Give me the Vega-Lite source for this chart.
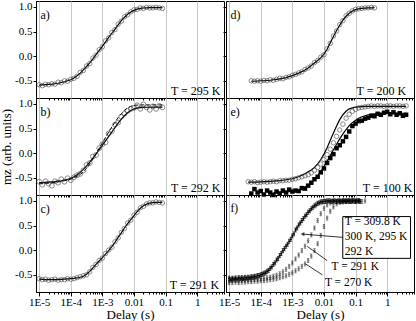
{
"$schema":"https://vega.github.io/schema/vega-lite/v6.json",
"padding":{"left":0,"top":0,"right":1,"bottom":0},
"config":{"font":"Liberation Serif","view":{"stroke":"black","strokeWidth":1},
"axis":{"labelFont":"Liberation Serif","titleFont":"Liberation Serif","labelFontSize":11,"titleFontSize":13,"titleFontWeight":"normal","labelColor":"black","titleColor":"black","domainColor":"black","tickColor":"black","tickSize":3,"labelPadding":1},
"text":{"font":"Liberation Serif","fontSize":12,"color":"black","baseline":"middle"}},
"datasets":{
"pts":[
{"p":"a","x":1e-5,"y":-0.58,"f":-0.59},{"p":"a","x":1.259e-5,"y":-0.6,"f":-0.585},{"p":"a","x":1.585e-5,"y":-0.57,"f":-0.58},{"p":"a","x":1.995e-5,"y":-0.58,"f":-0.575},{"p":"a","x":2.512e-5,"y":-0.56,"f":-0.57},{"p":"a","x":3.162e-5,"y":-0.57,"f":-0.56},{"p":"a","x":3.981e-5,"y":-0.53,"f":-0.55},{"p":"a","x":5.012e-5,"y":-0.54,"f":-0.535},{"p":"a","x":6.31e-5,"y":-0.5,"f":-0.52},{"p":"a","x":7.943e-5,"y":-0.51,"f":-0.5},
{"p":"a","x":1e-4,"y":-0.47,"f":-0.48},{"p":"a","x":1.259e-4,"y":-0.45,"f":-0.445},{"p":"a","x":1.585e-4,"y":-0.41,"f":-0.4},{"p":"a","x":1.995e-4,"y":-0.33,"f":-0.345},{"p":"a","x":2.512e-4,"y":-0.29,"f":-0.28},{"p":"a","x":3.162e-4,"y":-0.2,"f":-0.21},{"p":"a","x":3.981e-4,"y":-0.15,"f":-0.135},{"p":"a","x":5.012e-4,"y":-0.04,"f":-0.055},{"p":"a","x":6.31e-4,"y":0.02,"f":0.03},{"p":"a","x":7.943e-4,"y":0.13,"f":0.115},
{"p":"a","x":0.001,"y":0.19,"f":0.2},{"p":"a","x":0.001259,"y":0.31,"f":0.29},{"p":"a","x":0.001585,"y":0.37,"f":0.38},{"p":"a","x":0.001995,"y":0.48,"f":0.465},{"p":"a","x":0.002512,"y":0.54,"f":0.55},{"p":"a","x":0.003162,"y":0.65,"f":0.635},{"p":"a","x":0.003981,"y":0.71,"f":0.72},{"p":"a","x":0.005012,"y":0.8,"f":0.79},{"p":"a","x":0.00631,"y":0.84,"f":0.85},{"p":"a","x":0.007943,"y":0.9,"f":0.895},
{"p":"a","x":0.01,"y":0.94,"f":0.93},{"p":"a","x":0.01259,"y":0.95,"f":0.955},{"p":"a","x":0.01585,"y":0.98,"f":0.97},{"p":"a","x":0.01995,"y":0.97,"f":0.978},{"p":"a","x":0.02512,"y":0.99,"f":0.982},{"p":"a","x":0.03162,"y":0.98,"f":0.984},{"p":"a","x":0.03981,"y":0.98,"f":0.985},{"p":"a","x":0.05012,"y":0.99,"f":0.985},{"p":"a","x":0.0631,"y":0.98,"f":0.985},{"p":"a","x":0.07943,"y":0.97,"f":0.985},

{"p":"b","x":1e-5,"y":-0.58,"f":-0.6,"g":-0.62},{"p":"b","x":1.259e-5,"y":-0.64,"f":-0.6,"g":-0.62},{"p":"b","x":1.585e-5,"y":-0.57,"f":-0.595,"g":-0.615},{"p":"b","x":1.995e-5,"y":-0.62,"f":-0.59,"g":-0.61},{"p":"b","x":2.512e-5,"y":-0.66,"f":-0.585,"g":-0.6},{"p":"b","x":3.162e-5,"y":-0.57,"f":-0.58,"g":-0.595},{"p":"b","x":3.981e-5,"y":-0.6,"f":-0.57,"g":-0.585},{"p":"b","x":5.012e-5,"y":-0.53,"f":-0.56,"g":-0.575},{"p":"b","x":6.31e-5,"y":-0.58,"f":-0.545,"g":-0.56},{"p":"b","x":7.943e-5,"y":-0.51,"f":-0.53,"g":-0.545},
{"p":"b","x":1e-4,"y":-0.55,"f":-0.51,"g":-0.53},{"p":"b","x":1.259e-4,"y":-0.49,"f":-0.48,"g":-0.5},{"p":"b","x":1.585e-4,"y":-0.45,"f":-0.44,"g":-0.47},{"p":"b","x":1.995e-4,"y":-0.42,"f":-0.39,"g":-0.43},{"p":"b","x":2.512e-4,"y":-0.35,"f":-0.33,"g":-0.38},{"p":"b","x":3.162e-4,"y":-0.24,"f":-0.26,"g":-0.31},{"p":"b","x":3.981e-4,"y":-0.2,"f":-0.18,"g":-0.22},{"p":"b","x":5.012e-4,"y":-0.07,"f":-0.1,"g":-0.12},{"p":"b","x":6.31e-4,"y":-0.04,"f":-0.02,"g":-0.01},{"p":"b","x":7.943e-4,"y":0.1,"f":0.07,"g":0.1},
{"p":"b","x":0.001,"y":0.18,"f":0.16,"g":0.21},{"p":"b","x":0.001259,"y":0.22,"f":0.25,"g":0.32},{"p":"b","x":0.001585,"y":0.4,"f":0.34,"g":0.43},{"p":"b","x":0.001995,"y":0.45,"f":0.43,"g":0.53},{"p":"b","x":0.002512,"y":0.58,"f":0.52,"g":0.63},{"p":"b","x":0.003162,"y":0.62,"f":0.61,"g":0.72},{"p":"b","x":0.003981,"y":0.74,"f":0.69,"g":0.8},{"p":"b","x":0.005012,"y":0.8,"f":0.76,"g":0.87},{"p":"b","x":0.00631,"y":0.86,"f":0.82,"g":0.92},{"p":"b","x":0.007943,"y":0.9,"f":0.865,"g":0.95},
{"p":"b","x":0.01,"y":0.92,"f":0.895,"g":0.97},{"p":"b","x":0.01259,"y":0.97,"f":0.915,"g":0.975},{"p":"b","x":0.01585,"y":0.9,"f":0.925,"g":0.98},{"p":"b","x":0.01995,"y":0.99,"f":0.93,"g":0.98},{"p":"b","x":0.02512,"y":0.93,"f":0.932,"g":0.98},{"p":"b","x":0.03162,"y":0.88,"f":0.933,"g":0.98},{"p":"b","x":0.03981,"y":0.95,"f":0.934,"g":0.98},{"p":"b","x":0.05012,"y":0.9,"f":0.934,"g":0.98},{"p":"b","x":0.0631,"y":0.96,"f":0.934,"g":0.98},{"p":"b","x":0.07943,"y":0.93,"f":0.934,"g":0.98},

{"p":"c","x":1e-5,"y":-0.58,"f":-0.59},{"p":"c","x":1.259e-5,"y":-0.6,"f":-0.595},{"p":"c","x":1.585e-5,"y":-0.59,"f":-0.6},{"p":"c","x":1.995e-5,"y":-0.61,"f":-0.6},{"p":"c","x":2.512e-5,"y":-0.6,"f":-0.6},{"p":"c","x":3.162e-5,"y":-0.59,"f":-0.6},{"p":"c","x":3.981e-5,"y":-0.61,"f":-0.6},{"p":"c","x":5.012e-5,"y":-0.6,"f":-0.595},{"p":"c","x":6.31e-5,"y":-0.6,"f":-0.59},{"p":"c","x":7.943e-5,"y":-0.58,"f":-0.585},
{"p":"c","x":1e-4,"y":-0.59,"f":-0.58},{"p":"c","x":1.259e-4,"y":-0.58,"f":-0.575},{"p":"c","x":1.585e-4,"y":-0.56,"f":-0.565},{"p":"c","x":1.995e-4,"y":-0.54,"f":-0.55},{"p":"c","x":2.512e-4,"y":-0.52,"f":-0.53},{"p":"c","x":3.162e-4,"y":-0.5,"f":-0.49},{"p":"c","x":3.981e-4,"y":-0.44,"f":-0.43},{"p":"c","x":5.012e-4,"y":-0.35,"f":-0.36},{"p":"c","x":6.31e-4,"y":-0.29,"f":-0.29},{"p":"c","x":7.943e-4,"y":-0.21,"f":-0.22},
{"p":"c","x":0.001,"y":-0.16,"f":-0.15},{"p":"c","x":0.001259,"y":-0.07,"f":-0.08},{"p":"c","x":0.001585,"y":0.0,"f":-0.01},{"p":"c","x":0.001995,"y":0.06,"f":0.07},{"p":"c","x":0.002512,"y":0.17,"f":0.16},{"p":"c","x":0.003162,"y":0.25,"f":0.26},{"p":"c","x":0.003981,"y":0.36,"f":0.35},{"p":"c","x":0.005012,"y":0.44,"f":0.45},{"p":"c","x":0.00631,"y":0.55,"f":0.54},{"p":"c","x":0.007943,"y":0.61,"f":0.62},
{"p":"c","x":0.01,"y":0.71,"f":0.7},{"p":"c","x":0.01259,"y":0.77,"f":0.78},{"p":"c","x":0.01585,"y":0.86,"f":0.85},{"p":"c","x":0.01995,"y":0.89,"f":0.9},{"p":"c","x":0.02512,"y":0.94,"f":0.935},{"p":"c","x":0.03162,"y":0.96,"f":0.955},{"p":"c","x":0.03981,"y":0.96,"f":0.965},{"p":"c","x":0.05012,"y":0.98,"f":0.97},{"p":"c","x":0.0631,"y":0.97,"f":0.97},{"p":"c","x":0.07943,"y":0.96,"f":0.97},

{"p":"d","x":5.012e-5,"y":-0.5,"f":-0.51},{"p":"d","x":6.31e-5,"y":-0.51,"f":-0.51},{"p":"d","x":7.943e-5,"y":-0.5,"f":-0.505},{"p":"d","x":1e-4,"y":-0.51,"f":-0.5},{"p":"d","x":1.259e-4,"y":-0.49,"f":-0.5},{"p":"d","x":1.585e-4,"y":-0.5,"f":-0.495},{"p":"d","x":1.995e-4,"y":-0.48,"f":-0.49},{"p":"d","x":2.512e-4,"y":-0.49,"f":-0.48},{"p":"d","x":3.162e-4,"y":-0.47,"f":-0.47},{"p":"d","x":3.981e-4,"y":-0.45,"f":-0.46},
{"p":"d","x":5.012e-4,"y":-0.46,"f":-0.45},{"p":"d","x":6.31e-4,"y":-0.43,"f":-0.435},{"p":"d","x":7.943e-4,"y":-0.42,"f":-0.415},{"p":"d","x":0.001,"y":-0.39,"f":-0.395},{"p":"d","x":0.001259,"y":-0.37,"f":-0.37},{"p":"d","x":0.001585,"y":-0.34,"f":-0.345},{"p":"d","x":0.001995,"y":-0.32,"f":-0.315},{"p":"d","x":0.002512,"y":-0.27,"f":-0.28},{"p":"d","x":0.003162,"y":-0.24,"f":-0.24},{"p":"d","x":0.003981,"y":-0.2,"f":-0.19},
{"p":"d","x":0.005012,"y":-0.13,"f":-0.14},{"p":"d","x":0.00631,"y":-0.09,"f":-0.09},{"p":"d","x":0.007943,"y":-0.02,"f":-0.03},{"p":"d","x":0.01,"y":0.03,"f":0.04},{"p":"d","x":0.01259,"y":0.15,"f":0.14},{"p":"d","x":0.01585,"y":0.26,"f":0.27},{"p":"d","x":0.01995,"y":0.41,"f":0.4},{"p":"d","x":0.02512,"y":0.51,"f":0.52},{"p":"d","x":0.03162,"y":0.64,"f":0.63},{"p":"d","x":0.03981,"y":0.72,"f":0.73},
{"p":"d","x":0.05012,"y":0.82,"f":0.81},{"p":"d","x":0.0631,"y":0.87,"f":0.87},{"p":"d","x":0.07943,"y":0.92,"f":0.915},{"p":"d","x":0.1,"y":0.95,"f":0.945},{"p":"d","x":0.1259,"y":0.96,"f":0.96},{"p":"d","x":0.1585,"y":0.97,"f":0.97},{"p":"d","x":0.1995,"y":0.98,"f":0.975},{"p":"d","x":0.2512,"y":0.98,"f":0.98},{"p":"d","x":0.3162,"y":0.99,"f":0.98},{"p":"d","x":0.3981,"y":0.98,"f":0.985},

{"p":"e","x":3.981e-5,"y":-0.58,"f":-0.59},{"p":"e","x":5.012e-5,"y":-0.59,"f":-0.59,"q":-0.82},{"p":"e","x":6.31e-5,"y":-0.58,"f":-0.59,"q":-0.73},{"p":"e","x":7.943e-5,"y":-0.6,"f":-0.59,"q":-0.8},{"p":"e","x":1e-4,"y":-0.59,"f":-0.585,"q":-0.77},{"p":"e","x":1.259e-4,"y":-0.58,"f":-0.58,"q":-0.84},{"p":"e","x":1.585e-4,"y":-0.59,"f":-0.58,"q":-0.76},{"p":"e","x":1.995e-4,"y":-0.58,"f":-0.575,"q":-0.8},{"p":"e","x":2.512e-4,"y":-0.57,"f":-0.57,"q":-0.85,"h":-0.8},{"p":"e","x":3.162e-4,"y":-0.58,"f":-0.565,"q":-0.78,"h":-0.8},
{"p":"e","x":3.981e-4,"y":-0.56,"f":-0.56,"q":-0.82,"h":-0.795},{"p":"e","x":5.012e-4,"y":-0.56,"f":-0.55,"q":-0.76,"h":-0.79},{"p":"e","x":6.31e-4,"y":-0.55,"f":-0.54,"q":-0.8,"h":-0.785},{"p":"e","x":7.943e-4,"y":-0.55,"f":-0.53,"q":-0.74,"h":-0.78},{"p":"e","x":0.001,"y":-0.53,"f":-0.52,"q":-0.78,"h":-0.77},{"p":"e","x":0.001259,"y":-0.52,"f":-0.5,"q":-0.76,"h":-0.76},{"p":"e","x":0.001585,"y":-0.5,"f":-0.48,"q":-0.77,"h":-0.745},{"p":"e","x":0.001995,"y":-0.48,"f":-0.45,"q":-0.71,"h":-0.72},{"p":"e","x":0.002512,"y":-0.46,"f":-0.42,"q":-0.72,"h":-0.69},{"p":"e","x":0.003162,"y":-0.44,"f":-0.38,"q":-0.66,"h":-0.65},
{"p":"e","x":0.003981,"y":-0.4,"f":-0.34,"q":-0.6,"h":-0.6},{"p":"e","x":0.005012,"y":-0.35,"f":-0.29,"q":-0.53,"h":-0.54},{"p":"e","x":0.00631,"y":-0.29,"f":-0.22,"q":-0.48,"h":-0.46},{"p":"e","x":0.007943,"y":-0.22,"f":-0.13,"q":-0.39,"h":-0.37},{"p":"e","x":0.01,"y":-0.13,"f":-0.02,"q":-0.31,"h":-0.27},{"p":"e","x":0.01259,"y":-0.03,"f":0.11,"q":-0.2,"h":-0.16},{"p":"e","x":0.01585,"y":0.08,"f":0.26,"q":-0.1,"h":-0.05},{"p":"e","x":0.01995,"y":0.21,"f":0.41,"q":-0.02,"h":0.07},{"p":"e","x":0.02512,"y":0.34,"f":0.55,"q":0.1,"h":0.18},{"p":"e","x":0.03162,"y":0.47,"f":0.68,"q":0.16,"h":0.29},
{"p":"e","x":0.03981,"y":0.59,"f":0.78,"q":0.24,"h":0.39},{"p":"e","x":0.05012,"y":0.71,"f":0.85,"q":0.33,"h":0.48},{"p":"e","x":0.0631,"y":0.79,"f":0.9,"q":0.44,"h":0.56},{"p":"e","x":0.07943,"y":0.85,"f":0.92,"q":0.55,"h":0.62},{"p":"e","x":0.1,"y":0.89,"f":0.935,"q":0.6,"h":0.67},{"p":"e","x":0.1259,"y":0.92,"f":0.94,"q":0.65,"h":0.71},{"p":"e","x":0.1585,"y":0.93,"f":0.945,"q":0.66,"h":0.74},{"p":"e","x":0.1995,"y":0.94,"f":0.95,"q":0.7,"h":0.76},{"p":"e","x":0.2512,"y":0.95,"f":0.95,"q":0.72,"h":0.78},{"p":"e","x":0.3162,"y":0.96,"f":0.95,"q":0.76,"h":0.79},
{"p":"e","x":0.3981,"y":0.95,"f":0.95,"q":0.75,"h":0.8},{"p":"e","x":0.5012,"y":0.96,"f":0.95,"q":0.8,"h":0.805},{"p":"e","x":0.631,"y":0.96,"f":0.95,"q":0.78,"h":0.81},{"p":"e","x":0.7943,"y":0.95,"f":0.95,"q":0.82,"h":0.81},{"p":"e","x":1,"y":0.96,"f":0.95,"q":0.84,"h":0.81},{"p":"e","x":1.259,"y":0.96,"f":0.95,"q":0.79,"h":0.81},{"p":"e","x":1.585,"y":0.95,"f":0.95,"q":0.83,"h":0.81},{"p":"e","x":1.995,"y":0.96,"f":0.95,"q":0.78,"h":0.81},{"p":"e","x":2.512,"y":0.96,"f":0.95,"q":0.81,"h":0.81},{"p":"e","x":3.162,"y":0.95,"f":0.95,"q":0.76,"h":0.81},{"p":"e","x":3.981,"y":0.96,"f":0.95,"q":0.78,"h":0.81}
],
"fs":[
{"s":"309.8 K","x":1e-5,"v":-0.57},{"s":"309.8 K","x":1.259e-5,"v":-0.57},{"s":"309.8 K","x":1.585e-5,"v":-0.565},{"s":"309.8 K","x":1.995e-5,"v":-0.56},{"s":"309.8 K","x":2.512e-5,"v":-0.56},{"s":"309.8 K","x":3.162e-5,"v":-0.555},{"s":"309.8 K","x":3.981e-5,"v":-0.55},{"s":"309.8 K","x":5.012e-5,"v":-0.54},{"s":"309.8 K","x":6.31e-5,"v":-0.53},{"s":"309.8 K","x":7.943e-5,"v":-0.515},
{"s":"309.8 K","x":1e-4,"v":-0.5},{"s":"309.8 K","x":1.259e-4,"v":-0.47},{"s":"309.8 K","x":1.585e-4,"v":-0.43},{"s":"309.8 K","x":1.995e-4,"v":-0.37},{"s":"309.8 K","x":2.512e-4,"v":-0.29},{"s":"309.8 K","x":3.162e-4,"v":-0.2},{"s":"309.8 K","x":3.981e-4,"v":-0.11},{"s":"309.8 K","x":5.012e-4,"v":-0.01},{"s":"309.8 K","x":6.31e-4,"v":0.08},{"s":"309.8 K","x":7.943e-4,"v":0.18},
{"s":"309.8 K","x":0.001,"v":0.29},{"s":"309.8 K","x":0.001259,"v":0.41},{"s":"309.8 K","x":0.001585,"v":0.51},{"s":"309.8 K","x":0.001995,"v":0.6},{"s":"309.8 K","x":0.002512,"v":0.69},{"s":"309.8 K","x":0.003162,"v":0.77},{"s":"309.8 K","x":0.003981,"v":0.84},{"s":"309.8 K","x":0.005012,"v":0.9},{"s":"309.8 K","x":0.00631,"v":0.95},{"s":"309.8 K","x":0.007943,"v":0.98},
{"s":"309.8 K","x":0.01,"v":0.99},{"s":"309.8 K","x":0.01259,"v":1.0},{"s":"309.8 K","x":0.01585,"v":1.0},{"s":"309.8 K","x":0.01995,"v":1.0},{"s":"309.8 K","x":0.02512,"v":0.99},{"s":"309.8 K","x":0.03162,"v":1.0},{"s":"309.8 K","x":0.03981,"v":1.0},{"s":"309.8 K","x":0.05012,"v":0.99},{"s":"309.8 K","x":0.0631,"v":1.0},{"s":"309.8 K","x":0.07943,"v":1.0},{"s":"309.8 K","x":0.1,"v":0.99},{"s":"309.8 K","x":0.1259,"v":1.0},
{"s":"292 K","x":1.122e-5,"v":-0.6},{"s":"292 K","x":1.413e-5,"v":-0.59},{"s":"292 K","x":1.778e-5,"v":-0.59},{"s":"292 K","x":2.239e-5,"v":-0.58},{"s":"292 K","x":2.818e-5,"v":-0.58},{"s":"292 K","x":3.548e-5,"v":-0.57},{"s":"292 K","x":4.467e-5,"v":-0.565},{"s":"292 K","x":5.623e-5,"v":-0.55},{"s":"292 K","x":7.079e-5,"v":-0.54},{"s":"292 K","x":8.913e-5,"v":-0.52},
{"s":"292 K","x":1.122e-4,"v":-0.49},{"s":"292 K","x":1.413e-4,"v":-0.46},{"s":"292 K","x":1.778e-4,"v":-0.41},{"s":"292 K","x":2.239e-4,"v":-0.34},{"s":"292 K","x":2.818e-4,"v":-0.26},{"s":"292 K","x":3.548e-4,"v":-0.17},{"s":"292 K","x":4.467e-4,"v":-0.07},{"s":"292 K","x":5.623e-4,"v":0.03},{"s":"292 K","x":7.079e-4,"v":0.12},{"s":"292 K","x":8.913e-4,"v":0.22},
{"s":"292 K","x":0.001122,"v":0.33},{"s":"292 K","x":0.001413,"v":0.45},{"s":"292 K","x":0.001778,"v":0.55},{"s":"292 K","x":0.002239,"v":0.64},{"s":"292 K","x":0.002818,"v":0.72},{"s":"292 K","x":0.003548,"v":0.8},{"s":"292 K","x":0.004467,"v":0.87},{"s":"292 K","x":0.005623,"v":0.92},{"s":"292 K","x":0.007079,"v":0.96},{"s":"292 K","x":0.008913,"v":0.98},
{"s":"292 K","x":0.01122,"v":0.99},{"s":"292 K","x":0.01413,"v":1.0},{"s":"292 K","x":0.01778,"v":0.99},{"s":"292 K","x":0.02239,"v":1.0},{"s":"292 K","x":0.02818,"v":1.0},{"s":"292 K","x":0.03548,"v":0.99},{"s":"292 K","x":0.04467,"v":1.0},{"s":"292 K","x":0.05623,"v":1.0},{"s":"292 K","x":0.07079,"v":0.99},{"s":"292 K","x":0.08913,"v":1.0},{"s":"292 K","x":0.1122,"v":1.0},{"s":"292 K","x":0.1413,"v":0.99},
{"s":"291 K","x":1e-5,"v":-0.62},{"s":"291 K","x":1.259e-5,"v":-0.62},{"s":"291 K","x":1.585e-5,"v":-0.61},{"s":"291 K","x":1.995e-5,"v":-0.62},{"s":"291 K","x":2.512e-5,"v":-0.61},{"s":"291 K","x":3.162e-5,"v":-0.61},{"s":"291 K","x":3.981e-5,"v":-0.6},{"s":"291 K","x":5.012e-5,"v":-0.6},{"s":"291 K","x":6.31e-5,"v":-0.59},{"s":"291 K","x":7.943e-5,"v":-0.59},
{"s":"291 K","x":1e-4,"v":-0.58},{"s":"291 K","x":1.259e-4,"v":-0.57},{"s":"291 K","x":1.585e-4,"v":-0.56},{"s":"291 K","x":1.995e-4,"v":-0.55},{"s":"291 K","x":2.512e-4,"v":-0.53},{"s":"291 K","x":3.162e-4,"v":-0.51},{"s":"291 K","x":3.981e-4,"v":-0.48},{"s":"291 K","x":5.012e-4,"v":-0.44},{"s":"291 K","x":6.31e-4,"v":-0.39},{"s":"291 K","x":7.943e-4,"v":-0.33},
{"s":"291 K","x":0.001,"v":-0.26},{"s":"291 K","x":0.001259,"v":-0.18},{"s":"291 K","x":0.001585,"v":-0.1},{"s":"291 K","x":0.001995,"v":-0.01},{"s":"291 K","x":0.002512,"v":0.08},{"s":"291 K","x":0.003162,"v":0.19},{"s":"291 K","x":0.003981,"v":0.31},{"s":"291 K","x":0.005012,"v":0.45},{"s":"291 K","x":0.00631,"v":0.6},{"s":"291 K","x":0.007943,"v":0.74},
{"s":"291 K","x":0.01,"v":0.85},{"s":"291 K","x":0.01259,"v":0.92},{"s":"291 K","x":0.01585,"v":0.96},{"s":"291 K","x":0.01995,"v":0.98},{"s":"291 K","x":0.02512,"v":0.99},{"s":"291 K","x":0.03162,"v":0.99},{"s":"291 K","x":0.03981,"v":1.0},{"s":"291 K","x":0.05012,"v":1.0},{"s":"291 K","x":0.0631,"v":1.0},{"s":"291 K","x":0.07943,"v":1.0},{"s":"291 K","x":0.1,"v":0.99},{"s":"291 K","x":0.1259,"v":1.0},
{"s":"270 K","x":1e-5,"v":-0.66},{"s":"270 K","x":1.259e-5,"v":-0.66},{"s":"270 K","x":1.585e-5,"v":-0.65},{"s":"270 K","x":1.995e-5,"v":-0.66},{"s":"270 K","x":2.512e-5,"v":-0.65},{"s":"270 K","x":3.162e-5,"v":-0.65},{"s":"270 K","x":3.981e-5,"v":-0.64},{"s":"270 K","x":5.012e-5,"v":-0.64},{"s":"270 K","x":6.31e-5,"v":-0.63},{"s":"270 K","x":7.943e-5,"v":-0.63},
{"s":"270 K","x":1e-4,"v":-0.62},{"s":"270 K","x":1.259e-4,"v":-0.62},{"s":"270 K","x":1.585e-4,"v":-0.61},{"s":"270 K","x":1.995e-4,"v":-0.6},{"s":"270 K","x":2.512e-4,"v":-0.59},{"s":"270 K","x":3.162e-4,"v":-0.58},{"s":"270 K","x":3.981e-4,"v":-0.56},{"s":"270 K","x":5.012e-4,"v":-0.54},{"s":"270 K","x":6.31e-4,"v":-0.52},{"s":"270 K","x":7.943e-4,"v":-0.49},
{"s":"270 K","x":0.001,"v":-0.46},{"s":"270 K","x":0.001259,"v":-0.42},{"s":"270 K","x":0.001585,"v":-0.38},{"s":"270 K","x":0.001995,"v":-0.33},{"s":"270 K","x":0.002512,"v":-0.28},{"s":"270 K","x":0.003162,"v":-0.21},{"s":"270 K","x":0.003981,"v":-0.12},{"s":"270 K","x":0.005012,"v":-0.01},{"s":"270 K","x":0.00631,"v":0.13},{"s":"270 K","x":0.007943,"v":0.3},
{"s":"270 K","x":0.01,"v":0.48},{"s":"270 K","x":0.01259,"v":0.65},{"s":"270 K","x":0.01585,"v":0.79},{"s":"270 K","x":0.01995,"v":0.88},{"s":"270 K","x":0.02512,"v":0.94},{"s":"270 K","x":0.03162,"v":0.97},{"s":"270 K","x":0.03981,"v":0.98},{"s":"270 K","x":0.05012,"v":0.99},{"s":"270 K","x":0.0631,"v":0.99},{"s":"270 K","x":0.07943,"v":1.0},{"s":"270 K","x":0.1,"v":1.0},{"s":"270 K","x":0.1259,"v":1.0},{"s":"270 K","x":0.1585,"v":0.99},{"s":"270 K","x":0.1995,"v":1.0}
],
"ann":[
{"k":"box","x":0.0394,"v":-0.167,"x2":5.51,"v2":0.682},
{"k":"line","x":0.0394,"v":0.26,"x2":0.0021,"v2":0.326},
{"k":"line","x":0.0127,"v":-0.213,"x2":0.00297,"v2":0.076},
{"k":"line","x":0.00891,"v":-0.502,"x2":0.00263,"v2":-0.28},
{"k":"head","x":0.0021,"v":0.326}
],
"lab":[
{"p":"a","k":"id","x":1.1e-5,"v":0.83,"t":"a)"},{"p":"b","k":"id","x":1.1e-5,"v":0.83,"t":"b)"},{"p":"c","k":"id","x":1.1e-5,"v":0.83,"t":"c)"},
{"p":"d","k":"id","x":1.1e-5,"v":0.83,"t":"d)"},{"p":"e","k":"id","x":1.1e-5,"v":0.83,"t":"e)"},{"p":"f","k":"id","x":1.1e-5,"v":0.83,"t":"f)"},
{"p":"a","k":"T","x":5.5,"v":-0.71,"t":"T = 295 K"},{"p":"b","k":"T","x":5.5,"v":-0.71,"t":"T = 292 K"},{"p":"c","k":"T","x":5.0,"v":-0.71,"t":"T = 291 K"},
{"p":"d","k":"T","x":4.0,"v":-0.71,"t":"T = 200 K"},{"p":"e","k":"T","x":6.3,"v":-0.71,"t":"T = 100 K"},
{"p":"f","k":"box","x":0.0457,"v":0.575,"t":"T = 309.8 K"},{"p":"f","k":"box","x":0.0457,"v":0.258,"t":"300 K, 295 K"},{"p":"f","k":"box","x":0.0457,"v":-0.03,"t":"292 K"},
{"p":"f","k":"box","x":0.0174,"v":-0.334,"t":"T = 291 K"},{"p":"f","k":"box","x":0.0107,"v":-0.664,"t":"T = 270 K"}
]
},
"columns":2,
"spacing":{"row":0,"column":2},
"bounds":"flush",
"concat":[
{"width":188,"height":97,
"encoding":{"x":{"field":"x","type":"quantitative","scale":{"type":"log","domain":[7.94e-6,7.08],"nice":false},"axis":{"values":[1e-5,2e-5,3e-5,4e-5,5e-5,6e-5,7e-5,8e-5,9e-5,1e-4,2e-4,3e-4,4e-4,5e-4,6e-4,7e-4,8e-4,9e-4,0.001,0.002,0.003,0.004,0.005,0.006,0.007,0.008,0.009,0.01,0.02,0.03,0.04,0.05,0.06,0.07,0.08,0.09,0.1,0.2,0.3,0.4,0.5,0.6,0.7,0.8,0.9,1,2,3,4,5,6,7],"labels":false,"title":null,"grid":true,"gridColor":"#c8c8c8","gridOpacity":{"condition":{"test":"abs(log(datum.value)/LN10 - round(log(datum.value)/LN10)) < 0.01","value":1},"value":0},"tickSize":{"condition":{"test":"abs(log(datum.value)/LN10 - round(log(datum.value)/LN10)) < 0.01","value":4},"value":2}}},
"y":{"field":"v","type":"quantitative","scale":{"domain":[-0.85,1.12],"nice":false,"zero":false},"axis":{"values":[-0.5,0,0.5,1],"labelExpr":"datum.value < 0 ? '-' + format(-datum.value,'.1f') : format(datum.value,'.1f')","title":null,"grid":false}}},
"layer":[
{"data":{"name":"pts"},"transform":[{"filter":"datum.p==='a'"},{"fold":["f"],"as":["k","v"]}],"mark":{"type":"line","color":"black","strokeWidth":1.2}},
{"data":{"name":"pts"},"transform":[{"filter":"datum.p==='a'"},{"fold":["y"],"as":["k","v"]}],"mark":{"type":"point","shape":"circle","filled":false,"color":"#333","size":20,"strokeWidth":0.8}},
{"data":{"name":"lab"},"transform":[{"filter":"datum.p==='a' && datum.k==='id'"}],"mark":{"type":"text","align":"left"},"encoding":{"text":{"field":"t"}}},
{"data":{"name":"lab"},"transform":[{"filter":"datum.p==='a' && datum.k==='T'"}],"mark":{"type":"text","align":"right"},"encoding":{"text":{"field":"t"}}}
]},
{"width":188,"height":97,
"encoding":{"x":{"field":"x","type":"quantitative","scale":{"type":"log","domain":[7.94e-6,7.08],"nice":false},"axis":{"values":[1e-5,2e-5,3e-5,4e-5,5e-5,6e-5,7e-5,8e-5,9e-5,1e-4,2e-4,3e-4,4e-4,5e-4,6e-4,7e-4,8e-4,9e-4,0.001,0.002,0.003,0.004,0.005,0.006,0.007,0.008,0.009,0.01,0.02,0.03,0.04,0.05,0.06,0.07,0.08,0.09,0.1,0.2,0.3,0.4,0.5,0.6,0.7,0.8,0.9,1,2,3,4,5,6,7],"labels":false,"title":null,"grid":true,"gridColor":"#c8c8c8","gridOpacity":{"condition":{"test":"abs(log(datum.value)/LN10 - round(log(datum.value)/LN10)) < 0.01","value":1},"value":0},"tickSize":{"condition":{"test":"abs(log(datum.value)/LN10 - round(log(datum.value)/LN10)) < 0.01","value":4},"value":2}}},
"y":{"field":"v","type":"quantitative","scale":{"domain":[-0.85,1.12],"nice":false,"zero":false},"axis":{"values":[-0.5,0,0.5,1],"labels":false,"title":null,"grid":false}}},
"layer":[
{"data":{"name":"pts"},"transform":[{"filter":"datum.p==='d'"},{"fold":["f"],"as":["k","v"]}],"mark":{"type":"line","color":"black","strokeWidth":1.2}},
{"data":{"name":"pts"},"transform":[{"filter":"datum.p==='d'"},{"fold":["y"],"as":["k","v"]}],"mark":{"type":"point","shape":"circle","filled":false,"color":"#333","size":20,"strokeWidth":0.8}},
{"data":{"name":"lab"},"transform":[{"filter":"datum.p==='d' && datum.k==='id'"}],"mark":{"type":"text","align":"left"},"encoding":{"text":{"field":"t"}}},
{"data":{"name":"lab"},"transform":[{"filter":"datum.p==='d' && datum.k==='T'"}],"mark":{"type":"text","align":"right"},"encoding":{"text":{"field":"t"}}}
]},
{"width":188,"height":97,
"encoding":{"x":{"field":"x","type":"quantitative","scale":{"type":"log","domain":[7.94e-6,7.08],"nice":false},"axis":{"values":[1e-5,2e-5,3e-5,4e-5,5e-5,6e-5,7e-5,8e-5,9e-5,1e-4,2e-4,3e-4,4e-4,5e-4,6e-4,7e-4,8e-4,9e-4,0.001,0.002,0.003,0.004,0.005,0.006,0.007,0.008,0.009,0.01,0.02,0.03,0.04,0.05,0.06,0.07,0.08,0.09,0.1,0.2,0.3,0.4,0.5,0.6,0.7,0.8,0.9,1,2,3,4,5,6,7],"labels":false,"title":null,"grid":true,"gridColor":"#c8c8c8","gridOpacity":{"condition":{"test":"abs(log(datum.value)/LN10 - round(log(datum.value)/LN10)) < 0.01","value":1},"value":0},"tickSize":{"condition":{"test":"abs(log(datum.value)/LN10 - round(log(datum.value)/LN10)) < 0.01","value":4},"value":2}}},
"y":{"field":"v","type":"quantitative","scale":{"domain":[-0.85,1.12],"nice":false,"zero":false},"axis":{"values":[-0.5,0,0.5,1],"labelExpr":"datum.value < 0 ? '-' + format(-datum.value,'.1f') : format(datum.value,'.1f')","title":"mz (arb. units)","titlePadding":1,"grid":false}}},
"layer":[
{"data":{"name":"pts"},"transform":[{"filter":"datum.p==='b'"},{"fold":["g"],"as":["k","v"]}],"mark":{"type":"line","color":"black","strokeWidth":1,"strokeDash":[4,2]}},
{"data":{"name":"pts"},"transform":[{"filter":"datum.p==='b'"},{"fold":["f"],"as":["k","v"]}],"mark":{"type":"line","color":"black","strokeWidth":1.2}},
{"data":{"name":"pts"},"transform":[{"filter":"datum.p==='b'"},{"fold":["y"],"as":["k","v"]}],"mark":{"type":"point","shape":"circle","filled":false,"color":"#333","size":24,"strokeWidth":0.8}},
{"data":{"name":"lab"},"transform":[{"filter":"datum.p==='b' && datum.k==='id'"}],"mark":{"type":"text","align":"left"},"encoding":{"text":{"field":"t"}}},
{"data":{"name":"lab"},"transform":[{"filter":"datum.p==='b' && datum.k==='T'"}],"mark":{"type":"text","align":"right"},"encoding":{"text":{"field":"t"}}}
]},
{"width":188,"height":97,
"encoding":{"x":{"field":"x","type":"quantitative","scale":{"type":"log","domain":[7.94e-6,7.08],"nice":false},"axis":{"values":[1e-5,2e-5,3e-5,4e-5,5e-5,6e-5,7e-5,8e-5,9e-5,1e-4,2e-4,3e-4,4e-4,5e-4,6e-4,7e-4,8e-4,9e-4,0.001,0.002,0.003,0.004,0.005,0.006,0.007,0.008,0.009,0.01,0.02,0.03,0.04,0.05,0.06,0.07,0.08,0.09,0.1,0.2,0.3,0.4,0.5,0.6,0.7,0.8,0.9,1,2,3,4,5,6,7],"labels":false,"title":null,"grid":true,"gridColor":"#c8c8c8","gridOpacity":{"condition":{"test":"abs(log(datum.value)/LN10 - round(log(datum.value)/LN10)) < 0.01","value":1},"value":0},"tickSize":{"condition":{"test":"abs(log(datum.value)/LN10 - round(log(datum.value)/LN10)) < 0.01","value":4},"value":2}}},
"y":{"field":"v","type":"quantitative","scale":{"domain":[-0.85,1.12],"nice":false,"zero":false},"axis":{"values":[-0.5,0,0.5,1],"labels":false,"title":null,"grid":false}}},
"layer":[
{"data":{"name":"pts"},"transform":[{"filter":"datum.p==='e'"},{"fold":["f"],"as":["k","v"]}],"mark":{"type":"line","color":"black","strokeWidth":1.2}},
{"data":{"name":"pts"},"transform":[{"filter":"datum.p==='e'"},{"fold":["h"],"as":["k","v"]}],"mark":{"type":"line","color":"black","strokeWidth":1.2}},
{"data":{"name":"pts"},"transform":[{"filter":"datum.p==='e'"},{"fold":["y"],"as":["k","v"]}],"mark":{"type":"point","shape":"circle","filled":false,"color":"#333","size":20,"strokeWidth":0.8}},
{"data":{"name":"pts"},"transform":[{"filter":"datum.p==='e'"},{"fold":["q"],"as":["k","v"]}],"mark":{"type":"point","shape":"square","filled":true,"color":"black","size":20,"opacity":1}},
{"data":{"name":"lab"},"transform":[{"filter":"datum.p==='e' && datum.k==='id'"}],"mark":{"type":"text","align":"left"},"encoding":{"text":{"field":"t"}}},
{"data":{"name":"lab"},"transform":[{"filter":"datum.p==='e' && datum.k==='T'"}],"mark":{"type":"text","align":"right"},"encoding":{"text":{"field":"t"}}}
]},
{"width":188,"height":97,
"encoding":{"x":{"field":"x","type":"quantitative","scale":{"type":"log","domain":[7.94e-6,7.08],"nice":false},"axis":{"values":[1e-5,2e-5,3e-5,4e-5,5e-5,6e-5,7e-5,8e-5,9e-5,1e-4,2e-4,3e-4,4e-4,5e-4,6e-4,7e-4,8e-4,9e-4,0.001,0.002,0.003,0.004,0.005,0.006,0.007,0.008,0.009,0.01,0.02,0.03,0.04,0.05,0.06,0.07,0.08,0.09,0.1,0.2,0.3,0.4,0.5,0.6,0.7,0.8,0.9,1,2,3,4,5,6,7],"labelExpr":"abs(log(datum.value)/LN10 - round(log(datum.value)/LN10)) > 0.01 ? '' : datum.value < 0.005 ? '1E' + round(log(datum.value)/LN10) : format(datum.value, '~g')","labelOverlap":false,"labelFlush":false,"labelPadding":0,"title":"Delay (s)","titlePadding":1,"grid":true,"gridColor":"#c8c8c8","gridOpacity":{"condition":{"test":"abs(log(datum.value)/LN10 - round(log(datum.value)/LN10)) < 0.01","value":1},"value":0},"tickSize":{"condition":{"test":"abs(log(datum.value)/LN10 - round(log(datum.value)/LN10)) < 0.01","value":4},"value":2}}},
"y":{"field":"v","type":"quantitative","scale":{"domain":[-0.85,1.12],"nice":false,"zero":false},"axis":{"values":[-0.5,0,0.5,1],"labelExpr":"datum.value < 0 ? '-' + format(-datum.value,'.1f') : format(datum.value,'.1f')","title":null,"grid":false}}},
"layer":[
{"data":{"name":"pts"},"transform":[{"filter":"datum.p==='c'"},{"fold":["f"],"as":["k","v"]}],"mark":{"type":"line","color":"black","strokeWidth":1.2}},
{"data":{"name":"pts"},"transform":[{"filter":"datum.p==='c'"},{"fold":["y"],"as":["k","v"]}],"mark":{"type":"point","shape":"circle","filled":false,"color":"#333","size":20,"strokeWidth":0.8}},
{"data":{"name":"lab"},"transform":[{"filter":"datum.p==='c' && datum.k==='id'"}],"mark":{"type":"text","align":"left"},"encoding":{"text":{"field":"t"}}},
{"data":{"name":"lab"},"transform":[{"filter":"datum.p==='c' && datum.k==='T'"}],"mark":{"type":"text","align":"right"},"encoding":{"text":{"field":"t"}}}
]},
{"width":188,"height":97,
"encoding":{"x":{"field":"x","type":"quantitative","scale":{"type":"log","domain":[7.94e-6,7.08],"nice":false},"axis":{"values":[1e-5,2e-5,3e-5,4e-5,5e-5,6e-5,7e-5,8e-5,9e-5,1e-4,2e-4,3e-4,4e-4,5e-4,6e-4,7e-4,8e-4,9e-4,0.001,0.002,0.003,0.004,0.005,0.006,0.007,0.008,0.009,0.01,0.02,0.03,0.04,0.05,0.06,0.07,0.08,0.09,0.1,0.2,0.3,0.4,0.5,0.6,0.7,0.8,0.9,1,2,3,4,5,6,7],"labelExpr":"abs(log(datum.value)/LN10 - round(log(datum.value)/LN10)) > 0.01 ? '' : datum.value < 0.005 ? '1E' + round(log(datum.value)/LN10) : format(datum.value, '~g')","labelOverlap":false,"labelFlush":false,"labelPadding":0,"title":"Delay (s)","titlePadding":1,"grid":true,"gridColor":"#c8c8c8","gridOpacity":{"condition":{"test":"abs(log(datum.value)/LN10 - round(log(datum.value)/LN10)) < 0.01","value":1},"value":0},"tickSize":{"condition":{"test":"abs(log(datum.value)/LN10 - round(log(datum.value)/LN10)) < 0.01","value":4},"value":2}}},
"y":{"field":"v","type":"quantitative","scale":{"domain":[-0.85,1.12],"nice":false,"zero":false},"axis":{"values":[-0.5,0,0.5,1],"labels":false,"title":null,"grid":false}}},
"layer":[
{"data":{"name":"fs"},"transform":[{"filter":"datum.s==='270 K' || datum.s==='291 K'"}],"mark":{"type":"point","shape":"M-0.6,-1H0.6M0,-1V1M-0.6,1H0.6M-0.35,-0.35H0.35V0.35H-0.35Z","filled":false,"color":"#111","size":16,"strokeWidth":0.7}},
{"data":{"name":"fs"},"transform":[{"filter":"datum.s==='309.8 K' || datum.s==='292 K'"}],"mark":{"type":"point","shape":"M-0.6,-1H0.6M0,-1V1M-0.6,1H0.6M-0.3,-0.3H0.3V0.3H-0.3Z","filled":true,"color":"black","stroke":"black","size":16,"strokeWidth":0.7,"opacity":1}},
{"data":{"name":"ann"},"transform":[{"filter":"datum.k==='box'"}],"mark":{"type":"rect","fill":"white","stroke":"black","strokeWidth":1},"encoding":{"x2":{"field":"x2"},"y2":{"field":"v2"}}},
{"data":{"name":"ann"},"transform":[{"filter":"datum.k==='line'"}],"mark":{"type":"rule","color":"black","strokeWidth":0.8},"encoding":{"x2":{"field":"x2"},"y2":{"field":"v2"}}},
{"data":{"name":"ann"},"transform":[{"filter":"datum.k==='head'"}],"mark":{"type":"point","shape":"triangle-left","filled":true,"color":"black","size":18}},
{"data":{"name":"lab"},"transform":[{"filter":"datum.p==='f'"}],"mark":{"type":"text","align":"left","fontSize":11.5},"encoding":{"text":{"field":"t"}}}
]}
]
}
